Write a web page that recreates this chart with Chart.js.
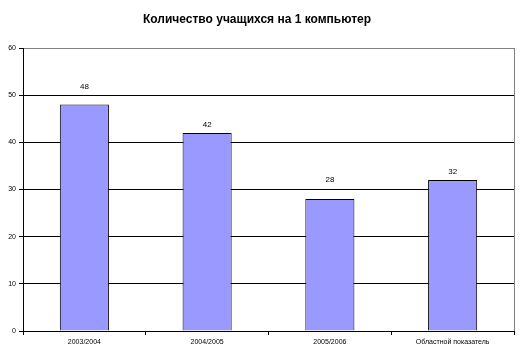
<!DOCTYPE html>
<html>
<head>
<meta charset="utf-8">
<script src="https://cdn.jsdelivr.net/npm/chart.js@4.4.0/dist/chart.umd.min.js"></script>
<style>
  html, body { margin: 0; padding: 0; background: #fff; }
  #wrap { width: 523px; height: 357px; }
</style>
</head>
<body>
<div id="wrap"><canvas id="canvas1" width="523" height="357"></canvas></div>
<script>
var categories = ["2003/2004", "2004/2005", "2005/2006", "Областной показатель"];
var values = [48, 42, 28, 32];
var yTicks = [0, 10, 20, 30, 40, 50, 60];

// подписи значений над столбцами (сдвиг вверх от вершины, px)
var labelLift = [14, 4, 15, 4];
var barLabels = {
    id: 'barLabels',
    afterDatasetsDraw: function(chart) {
        var ctx = chart.ctx;
        var meta = chart.getDatasetMeta(0);
        ctx.save();
        ctx.font = '8px "Liberation Sans", Arial, sans-serif';
        ctx.fillStyle = '#000';
        ctx.textAlign = 'center';
        ctx.textBaseline = 'bottom';
        meta.data.forEach(function(bar, i) {
            ctx.fillText(values[i], bar.x, bar.y - labelLift[i]);
        });
        ctx.restore();
    }
};

// серая рамка области построения справа
var plotBorder = {
    id: 'plotBorder',
    beforeDatasetsDraw: function(chart) {
        var a = chart.chartArea, ctx = chart.ctx;
        ctx.save();
        ctx.strokeStyle = '#808080';
        ctx.lineWidth = 1;
        ctx.beginPath();
        ctx.moveTo(Math.round(a.right) + 0.5, a.top);
        ctx.lineTo(Math.round(a.right) + 0.5, a.bottom);
        ctx.stroke();
        ctx.restore();
    }
};

new Chart(document.getElementById('canvas1'), {
    type: 'bar',
    data: {
        labels: categories,
        datasets: [{
            data: values,
            backgroundColor: '#9999FF',
            borderColor: '#000000',
            borderWidth: 1,
            categoryPercentage: 0.4,
            barPercentage: 1
        }]
    },
    options: {
        responsive: false,
        animation: false,
        layout: { padding: { right: 9, left: 0, bottom: 0 } },
        plugins: {
            legend: { display: false },
            tooltip: { enabled: false },
            title: {
                display: true,
                text: 'Количество учащихся на 1 компьютер',
                color: '#000',
                font: { family: '"Liberation Sans", Arial, sans-serif', size: 12, weight: 'bold' },
                padding: { top: 12, bottom: 21.6 }
            }
        },
        scales: {
            x: {
                afterFit: function(s) { s.height = 26; },
                border: { display: true, color: '#000', width: 1 },
                grid: {
                    offset: true,
                    drawOnChartArea: false,
                    drawTicks: true,
                    tickLength: 4,
                    color: '#000'
                },
                ticks: {
                    color: '#000',
                    padding: 3,
                    maxRotation: 0,
                    font: { family: '"Liberation Sans", Arial, sans-serif', size: 7 }
                }
            },
            y: {
                min: 0,
                max: 60,
                afterFit: function(s) { s.width = 23; },
                afterBuildTicks: function(s) {
                    s.ticks = yTicks.map(function(v) { return { value: v }; });
                },
                border: { display: true, color: '#000', width: 1 },
                grid: {
                    color: function(c) { return c.tick && c.tick.value === 60 ? '#808080' : '#000'; },
                    tickLength: 4,
                    tickColor: '#000'
                },
                ticks: {
                    color: '#000',
                    padding: 3,
                    font: { family: '"Liberation Sans", Arial, sans-serif', size: 7 }
                }
            }
        }
    },
    plugins: [barLabels, plotBorder]
});
</script>
</body>
</html>
